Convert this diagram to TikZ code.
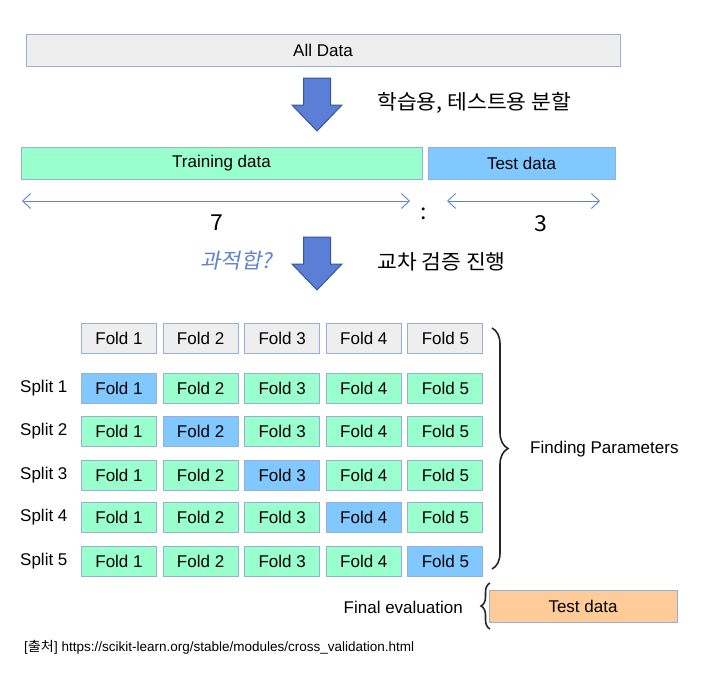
\documentclass[tikz,border=0pt]{standalone}
\usepackage{fontspec}
\setmainfont{Liberation Sans}
\newfontfamily\kor[FakeStretch=1.05]{Noto Sans CJK KR}
\newfontfamily\korit[FakeSlant=0.2,FakeStretch=1.05]{Noto Sans CJK KR}
\usetikzlibrary{arrows.meta,decorations.pathreplacing}

\definecolor{boxline}{RGB}{150,175,215}
\definecolor{allgray}{RGB}{238,238,238}
\definecolor{trainmint}{RGB}{153,255,204}
\definecolor{testblue}{RGB}{128,200,255}
\definecolor{finalorange}{RGB}{255,204,153}
\definecolor{arrowfill}{RGB}{91,127,214}
\definecolor{arrowedge}{RGB}{55,85,155}
\definecolor{linkblue}{RGB}{95,130,210}

\tikzset{
  databox/.style={draw=boxline, line width=0.9pt, inner sep=0pt, minimum height=32pt,
    font=\fontsize{17}{20}\selectfont},
  foldbox/.style={databox, minimum width=75pt, minimum height=30pt},
  lbl/.style={inner sep=0pt, font=\fontsize{17}{20}\selectfont},
  kortext/.style={inner sep=0pt, font=\kor\fontsize{20.5}{24}\selectfont},
  ratio/.style={inner sep=0pt, font=\kor\fontsize{22}{26}\selectfont},
  dblarrow/.style={linkblue, line width=0.9pt, {Straight Barb[length=8pt,width=15pt]}-{Straight Barb[length=8pt,width=15pt]}},
  curly/.style={decorate, line width=1.6pt, black!85},
  blockarrow/.pic={
    \draw[arrowedge, fill=arrowfill, line width=1pt, line join=miter]
      (-13.5,0) -- (13.5,0) -- (13.5,27) -- (25,27) -- (0,53) -- (-25,27) -- (-13.5,27) -- cycle;
  }
}

\begin{document}
\begin{tikzpicture}[x=1pt, y=-1pt]
    \useasboundingbox (0,0) rectangle (720,672);

    % All data and the first split
    \node[databox, fill=allgray, minimum width=594pt] (all) at (323,50) {All Data};
    \pic at (317,78) {blockarrow};
    \node[kortext, anchor=west] (split) at (377,103) {학습용, 테스트용 분할};

    % Training / test split
    \node[databox, fill=trainmint, minimum width=401pt] (train) at (221.5,163) {Training data};
    \node[databox, fill=testblue, minimum width=187pt] (test) at (521.5,163) {Test data};

    % Ratio 7 : 3
    \coordinate (trL) at (22,201);
    \coordinate (trR) at (410,201);
    \coordinate (teL) at (447,201);
    \coordinate (teR) at (600,201);
    \draw[dblarrow] (trL) -- (trR);
    \draw[dblarrow] (teL) -- (teR);
    \node[ratio] (seven) at (217,223) {7};
    \node[ratio] (colon) at (424,214) {:};
    \node[ratio] (three) at (541,224) {3};

    % Cross validation step
    \pic at (317,237) {blockarrow};
    \node[inner sep=0pt, font=\korit\fontsize{21}{24}\selectfont, text=linkblue, anchor=east] (overfit) at (272,261) {과적합?};
    \node[kortext, anchor=west] (cv) at (377,262) {교차 검증 진행};

    % Folds header
    \foreach \c in {1,...,5}
        \node[foldbox, fill=allgray] (h\c) at ({119+81.6*(\c-1)},338) {Fold \c};

    % Splits
    \foreach \r/\y in {1/388,2/431,3/475,4/517,5/561} {
        \node[lbl, anchor=west] (s\r) at (20,\y) {Split \r};
        \foreach \c in {1,...,5} {
            \ifnum\r=\c \def\fc{testblue}\else \def\fc{trainmint}\fi
            \node[foldbox, fill=\fc] (f\r\c) at ({119+81.6*(\c-1)},\y) {Fold \c};
        }
    }

    % Brace for parameter search
    \coordinate (brT) at (492,328);
    \coordinate (brB) at (492,569);
    \draw[curly, decoration={brace, amplitude=16pt, aspect=0.5}] (brT) -- (brB);
    \node[lbl, anchor=west] (param) at (530,449) {Finding Parameters};

    % Final evaluation
    \node[databox, fill=finalorange, minimum width=188pt] (final) at (583,606) {Test data};
    \coordinate (bfB) at (490,629);
    \coordinate (bfT) at (490,583);
    \draw[curly, decoration={brace, amplitude=9pt, aspect=0.5}] (bfB) -- (bfT);
    \node[lbl, anchor=east] (feval) at (463,607) {Final evaluation};

    % Source
    \node[inner sep=0pt, anchor=west, font=\fontsize{13.5}{16}\selectfont] (src) at (24,647)
        {[{\kor 출처}] https://scikit-learn.org/stable/modules/cross\_validation.html};
\end{tikzpicture}
\end{document}
